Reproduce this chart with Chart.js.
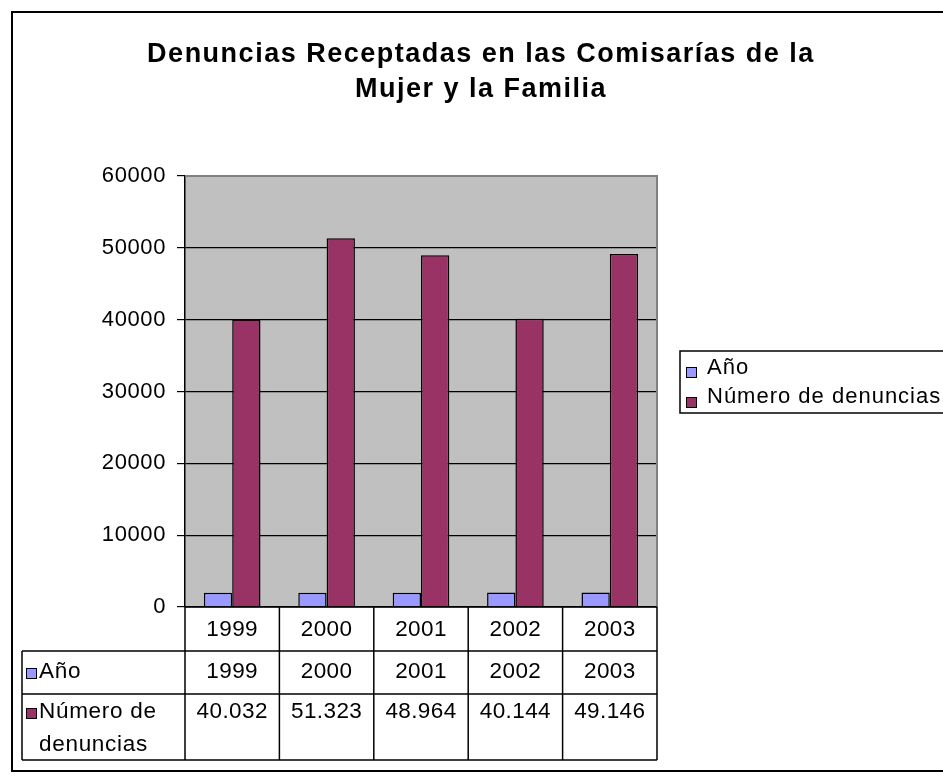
<!DOCTYPE html>
<html>
<head>
<meta charset="utf-8">
<script src="https://cdn.jsdelivr.net/npm/chart.js@4.4.1/dist/chart.umd.min.js"></script>
<style>
  body { margin: 0; background: #fff; }
  #wrap { width: 943px; height: 780px; }
</style>
</head>
<body>
<div id="wrap"><canvas id="myChart" width="943" height="780"></canvas></div>
<script>
// chart data
var years = ["1999", "2000", "2001", "2002", "2003"];
var anoValues = [1999, 2000, 2001, 2002, 2003];
var denuncias = [40032, 51323, 48964, 40144, 49146];
var yTicks = [0, 10000, 20000, 30000, 40000, 50000, 60000];
var seriesNames = ["Año", "Número de denuncias"];
var titleLines = ["Denuncias Receptadas en las Comisarías de la", "Mujer y la Familia"];

var colAno = "#9999FF";
var colDen = "#993366";
var fontName = "'Liberation Sans', Arial, sans-serif";

// spanish style thousands separator
function fmt(v) {
    return String(v).replace(/\B(?=(\d{3})+(?!\d))/g, ".");
}

function marker(ctx, x, y, color) {
    ctx.fillStyle = color;
    ctx.fillRect(x, y, 10, 10);
    ctx.strokeStyle = "#000";
    ctx.lineWidth = 1;
    ctx.strokeRect(x + 0.5, y + 0.5, 10, 10);
}

// draws background, title, legend and the data table
var extras = {
    id: "extras",
    beforeDraw: function(chart) {
        var ctx = chart.ctx, a = chart.chartArea;
        ctx.save();
        ctx.fillStyle = "#fff";
        ctx.fillRect(0, 0, chart.width, chart.height);
        ctx.fillStyle = "#C0C0C0";
        ctx.fillRect(a.left, a.top, a.right - a.left, a.bottom - a.top);
        ctx.restore();
        // the old windows rendering spreads the letters a bit
        ctx.letterSpacing = "0.6px";
    },
    afterDraw: function(chart) {
        var ctx = chart.ctx, a = chart.chartArea;
        var n = years.length;
        var cw = (a.right - a.left) / n;
        ctx.save();

        // gray frame of plot area (top / right)
        ctx.strokeStyle = "#808080";
        ctx.lineWidth = 2;
        ctx.beginPath();
        ctx.moveTo(a.left, a.top);
        ctx.lineTo(a.right, a.top);
        ctx.lineTo(a.right, a.bottom);
        ctx.stroke();

        // title
        ctx.fillStyle = "#000";
        ctx.font = "bold 27px " + fontName;
        ctx.letterSpacing = "1.5px";
        ctx.textAlign = "center";
        ctx.textBaseline = "middle";
        ctx.fillText(titleLines[0], 481, 55);
        ctx.fillText(titleLines[1], 481, 90);

        // data table
        var r0 = a.bottom, r1 = 651, r2 = 694, r3 = 760, tl = 22;
        ctx.strokeStyle = "#000";
        ctx.lineWidth = 1.5;
        ctx.beginPath();
        ctx.moveTo(a.left, r0); ctx.lineTo(a.right, r0);
        ctx.moveTo(tl, r1); ctx.lineTo(a.right, r1);
        ctx.moveTo(tl, r2); ctx.lineTo(a.right, r2);
        ctx.moveTo(tl, r3); ctx.lineTo(a.right, r3);
        ctx.moveTo(tl, r1); ctx.lineTo(tl, r3);
        for (var i = 0; i <= n; i++) {
            var x = a.left + i * cw;
            ctx.moveTo(x, r0); ctx.lineTo(x, r3);
        }
        ctx.stroke();

        ctx.font = "22.5px " + fontName;
        ctx.letterSpacing = "0.4px";
        ctx.textAlign = "center";
        ctx.textBaseline = "middle";
        ctx.fillStyle = "#000";
        for (var j = 0; j < n; j++) {
            var cx = a.left + (j + 0.5) * cw;
            ctx.fillText(years[j], cx, 630);
            ctx.fillText(String(anoValues[j]), cx, 672);
            ctx.fillText(fmt(denuncias[j]), cx, 712);
        }
        ctx.textAlign = "left";
        ctx.letterSpacing = "0.7px";
        marker(ctx, 26, 668, colAno);
        ctx.fillStyle = "#000";
        ctx.fillText(seriesNames[0], 39, 672);
        marker(ctx, 26, 708, colDen);
        ctx.fillStyle = "#000";
        ctx.fillText("Número de", 39, 712);
        ctx.fillText("denuncias", 39, 745);

        // legend box
        ctx.strokeStyle = "#000";
        ctx.lineWidth = 1.5;
        ctx.strokeRect(680, 351, 300, 62);
        ctx.font = "22px " + fontName;
        ctx.letterSpacing = "1px";
        marker(ctx, 686, 367, colAno);
        ctx.fillStyle = "#000";
        ctx.fillText(seriesNames[0], 707, 368);
        marker(ctx, 686, 397, colDen);
        ctx.fillStyle = "#000";
        ctx.fillText(seriesNames[1], 707, 397);

        // outer border
        ctx.lineWidth = 2;
        ctx.strokeRect(12, 12, 940, 759);
        ctx.restore();
    }
};

var ctx = document.getElementById("myChart").getContext("2d");
var myChart = new Chart(ctx, {
    type: "bar",
    data: {
        labels: years,
        datasets: [{
            label: seriesNames[0],
            data: anoValues,
            backgroundColor: colAno,
            borderColor: "#000",
            borderWidth: 1.5
        }, {
            label: seriesNames[1],
            data: denuncias,
            backgroundColor: colDen,
            borderColor: "#000",
            borderWidth: 1.5
        }]
    },
    options: {
        responsive: false,
        animation: false,
        layout: { padding: { left: 0, top: 176, right: 286, bottom: 173 } },
        plugins: {
            legend: { display: false },
            title: { display: false },
            tooltip: { enabled: false }
        },
        datasets: { bar: { categoryPercentage: 0.6, barPercentage: 1.0 } },
        scales: {
            x: { display: false },
            y: {
                min: 0,
                max: 60000,
                afterFit: function(scale) { scale.width = 185; },
                afterBuildTicks: function(scale) {
                    scale.ticks = yTicks.map(function(v) { return { value: v }; });
                },
                border: { display: true, color: "#000", width: 1.5 },
                grid: {
                    color: function(c) { return c.tick && c.tick.value === 60000 ? "rgba(0,0,0,0)" : "#000"; },
                    tickColor: "#000",
                    tickLength: 8,
                    lineWidth: 1.2
                },
                ticks: {
                    color: "#000",
                    padding: 11,
                    font: { family: fontName, size: 22 },
                    callback: function(v) { return String(v); }
                }
            }
        }
    },
    plugins: [extras]
});
</script>
</body>
</html>
